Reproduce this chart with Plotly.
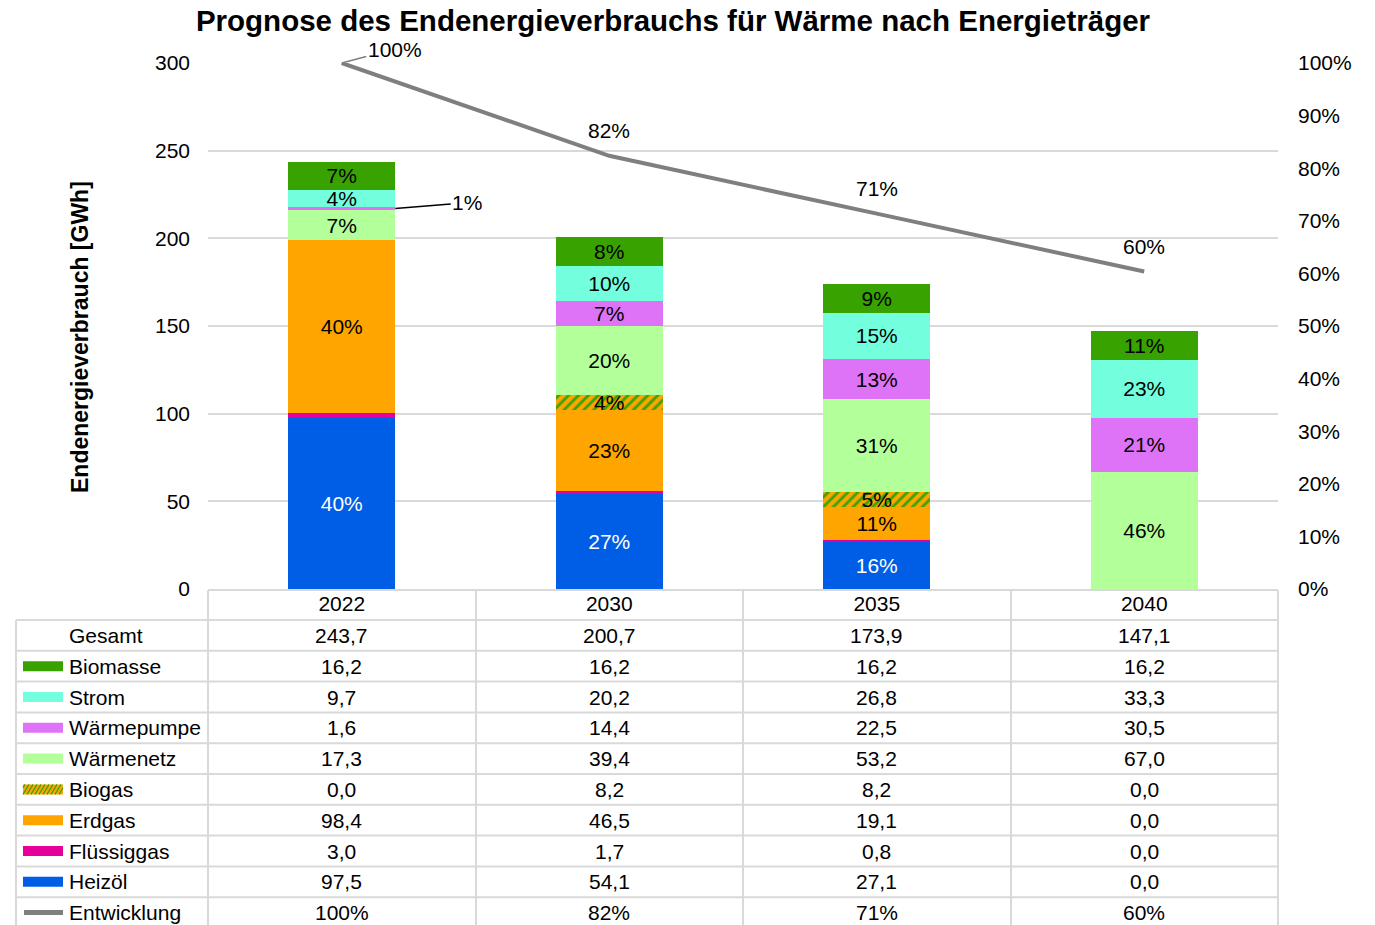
import plotly.graph_objects as go

# ---------------- data ----------------
years = ["2022", "2030", "2035", "2040"]
heizoel = [97.5, 54.1, 27.1, 0.0]
fluessiggas = [3.0, 1.7, 0.8, 0.0]
erdgas = [98.4, 46.5, 19.1, 0.0]
biogas = [0.0, 8.2, 8.2, 0.0]
waermenetz = [17.3, 39.4, 53.2, 67.0]
waermepumpe = [1.6, 14.4, 22.5, 30.5]
strom = [9.7, 20.2, 26.8, 33.3]
biomasse = [16.2, 16.2, 16.2, 16.2]
gesamt = [243.7, 200.7, 173.9, 147.1]
entwicklung_labels = ["100%", "82%", "71%", "60%"]

W, H = 1375, 925
L, R, T, B = 208, 1278, 63, 589  # plot area in pixels


def px(x):
    return (x - L) / (R - L)


def py(y):
    return 1 - (y - T) / (B - T)


series = [
    ("Heizöl", heizoel, "#005EE6", "white"),
    ("Flüssiggas", fluessiggas, "#E6009A", "black"),
    ("Erdgas", erdgas, "#FFA500", "black"),
    ("Biogas", biogas, "#FFA500", "black"),
    ("Wärmenetz", waermenetz, "#B3FF99", "black"),
    ("Wärmepumpe", waermepumpe, "#DF73F7", "black"),
    ("Strom", strom, "#73FFDE", "black"),
    ("Biomasse", biomasse, "#38A300", "black"),
]
FONT = "Liberation Sans, Arial, sans-serif"
FS = 21

fig = go.Figure()
for name, vals, col, tcol in series:
    texts = []
    for v, g in zip(vals, gesamt):
        p = v / g
        texts.append(f"{round(p * 100):.0f}%" if p >= 0.02 and name != "Flüssiggas" else "")
    marker = dict(color=col, line=dict(width=0))
    if name == "Biogas":
        marker["pattern"] = dict(shape="/", fgcolor="#38A300", bgcolor="#FFA500",
                                 size=7, solidity=0.4, fillmode="replace")
    fig.add_trace(go.Bar(
        x=years, y=vals, name=name, marker=marker, width=0.4,
        text=texts, textposition="inside", insidetextanchor="middle",
        textangle=0, textfont=dict(color=tcol, size=FS, family=FONT),
        constraintext="none", showlegend=False,
    ))

rel = [g / gesamt[0] * 100 for g in gesamt]
fig.add_trace(go.Scatter(
    x=years, y=rel, yaxis="y2", mode="lines",
    line=dict(color="#7F7F7F", width=4), showlegend=False, name="Entwicklung",
))

fig.update_layout(
    width=W, height=H,
    margin=dict(l=L, r=W - R, t=T, b=H - B),
    barmode="stack",
    plot_bgcolor="white", paper_bgcolor="white",
    font=dict(family=FONT, size=FS, color="black"),
    uniformtext=dict(minsize=FS, mode="show"),
    title=dict(text="<b>Prognose des Endenergieverbrauchs für Wärme nach Energieträger</b>",
               x=673 / W, xanchor="center", y=1 - 21 / H, yanchor="middle",
               font=dict(size=29.5, family=FONT, color="black")),
    xaxis=dict(type="category", range=[-0.5, 3.5], autorange=False, showgrid=False,
               zeroline=False, showline=False,
               tickfont=dict(size=FS, color="black"), ticks=""),
    yaxis=dict(range=[0, 300], dtick=50, showgrid=True, gridcolor="#D9D9D9",
               gridwidth=1.5, zeroline=False, showline=False,
               tickfont=dict(size=FS, color="black"), ticklabelstandoff=17),
    yaxis2=dict(range=[0, 100], dtick=10, overlaying="y", side="right",
                showgrid=False, zeroline=False, ticksuffix="%",
                tickfont=dict(size=FS, color="black"), ticklabelstandoff=19),
)

ann = []
ann.append(dict(text="<b>Endenergieverbrauch [GWh]</b>", xref="paper", yref="paper",
                x=px(80), y=py(337), xanchor="center", yanchor="middle", textangle=-90,
                showarrow=False, font=dict(size=23, family=FONT)))
wp_mid = heizoel[0] + fluessiggas[0] + erdgas[0] + biogas[0] + waermenetz[0] + waermepumpe[0] / 2
ann.append(dict(text=f"{round(waermepumpe[0] / gesamt[0] * 100)}%", x=0.2, y=wp_mid,
                xref="x", yref="y", ax=72, ay=-6, showarrow=True, arrowhead=0,
                arrowwidth=1.5, arrowcolor="black", font=dict(size=FS)))
for i, lab in enumerate(entwicklung_labels):
    if i == 0:
        ann.append(dict(text=lab, x=i, y=rel[i], xref="x", yref="y2", ax=53, ay=-14,
                        showarrow=True, arrowhead=0, arrowwidth=1.5, arrowcolor="#7F7F7F",
                        font=dict(size=FS)))
    else:
        ann.append(dict(text=lab, x=i, y=rel[i], xref="x", yref="y2", yshift=25,
                        showarrow=False, font=dict(size=FS)))

rows = [
    ("Gesamt", gesamt, None),
    ("Biomasse", biomasse, "#38A300"),
    ("Strom", strom, "#73FFDE"),
    ("Wärmepumpe", waermepumpe, "#DF73F7"),
    ("Wärmenetz", waermenetz, "#B3FF99"),
    ("Biogas", biogas, "pattern"),
    ("Erdgas", erdgas, "#FFA500"),
    ("Flüssiggas", fluessiggas, "#E6009A"),
    ("Heizöl", heizoel, "#005EE6"),
    ("Entwicklung", entwicklung_labels, "line"),
]
row_h = 30.8
top0 = 620
shapes = []
grid = "#D9D9D9"
shapes.append(dict(type="line", xref="paper", yref="paper", x0=px(208), x1=px(1278),
                   y0=py(590), y1=py(590), line=dict(color=grid, width=2)))
for k in range(len(rows) + 1):
    yy = top0 + k * row_h
    shapes.append(dict(type="line", xref="paper", yref="paper", x0=px(16), x1=px(1278),
                       y0=py(yy), y1=py(yy), line=dict(color=grid, width=2)))
bottom = top0 + len(rows) * row_h
shapes.append(dict(type="line", xref="paper", yref="paper", x0=px(16), x1=px(16),
                   y0=py(620), y1=py(bottom), line=dict(color=grid, width=2)))
for xx in [208, 476, 743, 1011, 1278]:
    shapes.append(dict(type="line", xref="paper", yref="paper", x0=px(xx), x1=px(xx),
                       y0=py(590), y1=py(bottom), line=dict(color=grid, width=2)))

for k, (name, vals, sw) in enumerate(rows):
    yc = top0 + k * row_h + row_h / 2
    ann.append(dict(text=name, xref="paper", yref="paper", x=px(67), y=py(yc),
                    xanchor="left", yanchor="middle", showarrow=False, font=dict(size=FS)))
    for i, v in enumerate(vals):
        t = v if isinstance(v, str) else f"{v:.1f}".replace(".", ",")
        ann.append(dict(text=t, xref="x", yref="paper", x=i, y=py(yc),
                        xanchor="center", yanchor="middle",
                        showarrow=False, font=dict(size=FS)))
    if sw is None:
        continue
    if sw == "line":
        shapes.append(dict(type="line", xref="paper", yref="paper", x0=px(24), x1=px(63),
                           y0=py(yc), y1=py(yc), line=dict(color="#7F7F7F", width=5)))
    elif sw == "pattern":
        shapes.append(dict(type="rect", xref="paper", yref="paper", x0=px(23), x1=px(63),
                           y0=py(yc + 5), y1=py(yc - 5), fillcolor="#FFA500", line=dict(width=0)))
        for s in range(19, 63, 4):
            xa, xb = max(s, 23), min(s + 6, 63)
            ya = yc + 5 - (xa - s) * 10 / 6
            yb = yc + 5 - (xb - s) * 10 / 6
            shapes.append(dict(type="line", xref="paper", yref="paper", x0=px(xa), x1=px(xb),
                               y0=py(ya), y1=py(yb), line=dict(color="#38A300", width=1.2)))
    else:
        shapes.append(dict(type="rect", xref="paper", yref="paper", x0=px(23), x1=px(63),
                           y0=py(yc + 5), y1=py(yc - 5), fillcolor=sw, line=dict(width=0)))

fig.update_layout(annotations=ann, shapes=shapes)
fig.write_html("out.html", config={"displayModeBar": False},
               post_script="document.body.style.margin='0';document.body.style.overflow='hidden';")
